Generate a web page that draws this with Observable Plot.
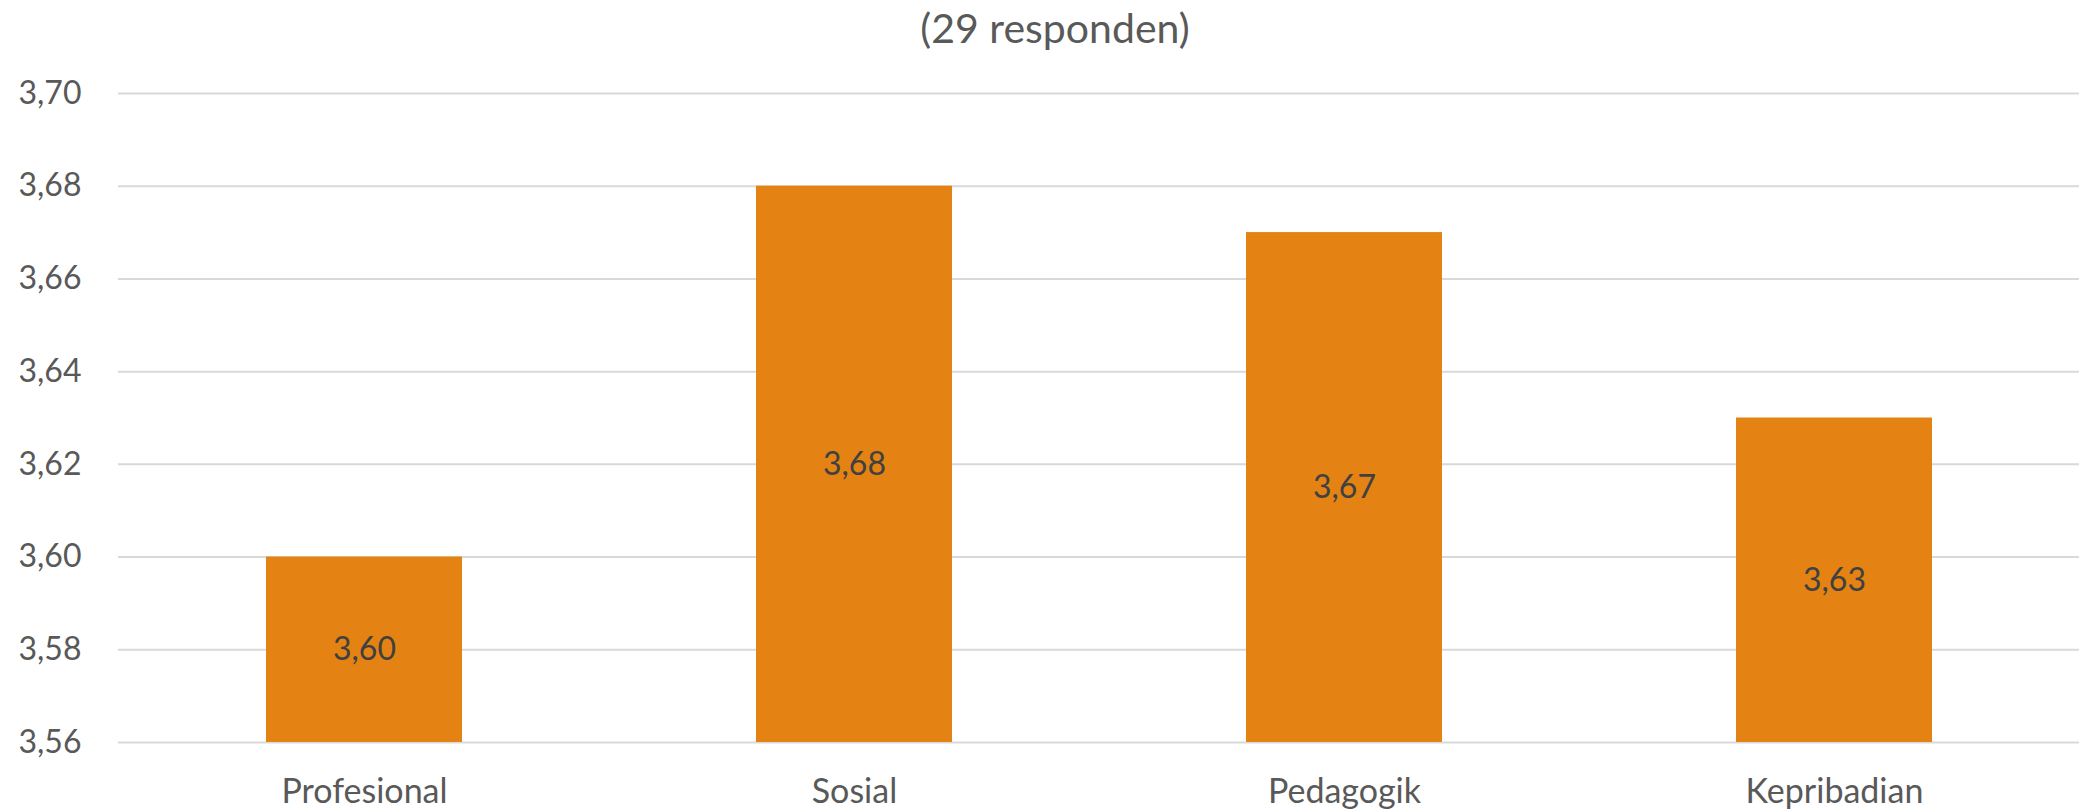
<!DOCTYPE html>
<html>
<head>
<meta charset="utf-8">
<script src="https://cdn.jsdelivr.net/npm/d3@7"></script>
<script src="https://cdn.jsdelivr.net/npm/@observablehq/plot@0.6"></script>
<style>
  html, body { margin: 0; padding: 0; background: #fff; }
  #title { height: 56px; line-height: 56px; font-family: Lato, sans-serif; font-size: 41px; color: #595959; text-align: center; padding-left: 31px; box-sizing: border-box; width: 2079px; }
</style>
</head>
<body>
<div id="title">(29 responden)</div>
<div id="chart"></div>
<script>
const categories = ["Profesional", "Sosial", "Pedagogik", "Kepribadian"];
const values = [3.60, 3.68, 3.67, 3.63];
const yTicks = [3.56, 3.58, 3.60, 3.62, 3.64, 3.66, 3.68, 3.70];
const yMin = 3.56;
const yMax = 3.70;

const data = categories.map((c, i) => ({cat: c, value: values[i]}));
const fmt = v => d3.format(".2f")(v).replace(".", ",");

const chart = Plot.plot({
  width: 2079,
  height: 754,
  marginTop: 37,
  marginBottom: 68,
  marginLeft: 118,
  marginRight: 0,
  style: {fontFamily: "Lato, sans-serif", fontSize: "34px", color: "#595959", background: "#fff"},
  x: {domain: categories, paddingInner: 0.6, paddingOuter: 0.3, label: null, tickSize: 0, tickPadding: 36},
  y: {domain: [yMin, yMax], ticks: yTicks, tickFormat: fmt, label: null, tickSize: 0, tickPadding: 37},
  marks: [
    Plot.ruleY(yTicks, {stroke: "#d9d9d9", strokeWidth: 2}),
    Plot.barY(data, {x: "cat", y1: () => yMin, y2: "value", fill: "#E48313"}),
    Plot.text(data, {x: "cat", y: d => (yMin + d.value) / 2, text: d => fmt(d.value), fill: "#404040", fontSize: 32}),
    Plot.axisX({tickSize: 0, tickPadding: 36, fontSize: 34, fill: "#595959"}),
    Plot.axisY({ticks: yTicks, tickFormat: fmt, tickSize: 0, tickPadding: 37, fontSize: 32, fill: "#595959"})
  ]
});
document.getElementById("chart").appendChild(chart);
</script>
</body>
</html>
